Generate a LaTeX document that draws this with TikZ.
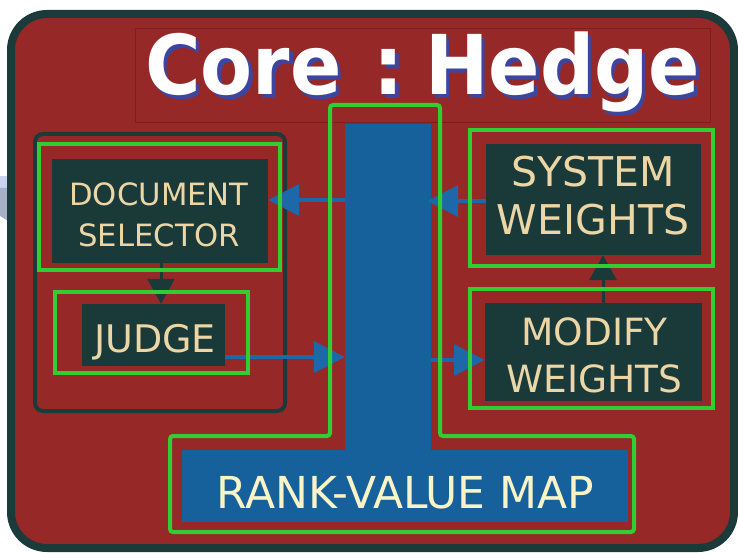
\documentclass[tikz,border=0pt]{standalone}
\usepackage{fontspec}
\setmainfont{DejaVu Sans}
\usetikzlibrary{arrows.meta}

\definecolor{rimdark}{RGB}{27,58,58}
\definecolor{slidered}{RGB}{150,40,40}
\definecolor{panelfill}{RGB}{26,58,58}
\definecolor{framegreen}{RGB}{50,205,50}
\definecolor{mapblue}{RGB}{22,96,156}
\definecolor{flowblue}{RGB}{28,104,168}
\definecolor{labelcream}{RGB}{236,214,165}
\definecolor{mapcream}{RGB}{248,244,200}
\definecolor{titleshade}{RGB}{60,70,160}
\definecolor{hazeblue}{RGB}{200,212,240}
\definecolor{hazegrey}{RGB}{168,176,200}

\tikzset{
  panel/.style={fill=panelfill, draw=none, inner sep=0pt},
  greenframe/.style={draw=framegreen, line width=4pt},
  lbl/.style={text=labelcream, align=center, inner sep=0pt},
  bluearrow/.style={draw=flowblue, line width=4pt, -{Triangle[length=31pt,width=31pt]}},
  darkarrow/.style={draw=panelfill, line width=3pt, -{Triangle[length=25pt,width=27pt]}},
  bluefill/.style={fill=mapblue, draw=none, inner sep=0pt},
  titletext/.style={anchor=base west, inner sep=0pt, font=\bfseries\fontsize{75}{80}\selectfont, xscale=1.01, yscale=1.1, transform shape},
}
% title text with its blue drop shadow set behind it
\newcommand{\shadowedtitle}[1]{%
  \makebox[0pt][l]{\hspace{3.5pt}\raisebox{-3.5pt}{\color{titleshade}#1}}#1}

\begin{document}
\begin{tikzpicture}[x=1pt,y=-1pt]
\useasboundingbox (0,0) rectangle (738,553);

% faint shape peeking out on the left
\fill[hazeblue] (0,176) rectangle (8,188);
\fill[hazegrey] (0,188) -- (8,188) -- (8,221) -- (0,216) -- cycle;

% slide background
\draw[draw=rimdark, fill=slidered, line width=8pt, rounded corners=36pt] (11,14) rectangle (734,548);

% title area
\draw[draw=black!60!slidered, line width=0.6pt, opacity=0.3] (135,28) rectangle (710,122);
\node[titletext, text=white] (title) at (145,95) {\shadowedtitle{Core\hspace{32pt}:\hspace{21pt}Hedge}};

% group around selector and judge
\draw[draw=rimdark, line width=4pt, rounded corners=8pt] (35,134) rectangle (285,411);

% dark panels
\node[panel, minimum width=216pt, minimum height=104pt] (docbox) at (160,211) {};
\node[panel, minimum width=143pt, minimum height=62pt] (judgebox) at (153.5,335) {};
\node[panel, minimum width=215pt, minimum height=111pt] (sysbox) at (593.5,199.5) {};
\node[panel, minimum width=217pt, minimum height=98pt] (modbox) at (593.5,352) {};

% labels
\node[lbl, font=\fontsize{30.7}{41}\selectfont] (doclbl) at (159,215) {DOCUMENT\\SELECTOR};
\node[lbl, anchor=base, font=\fontsize{38}{40}\selectfont] (judgelbl) at (155,352) {JUDGE};
\node[lbl, font=\fontsize{41}{48}\selectfont] (syslbl) at (593,195.5) {SYSTEM\\WEIGHTS};
\node[lbl, font=\fontsize{37.5}{47}\selectfont] (modlbl) at (594.5,355) {MODIFY\\WEIGHTS};

% rank-value map: column and base bar
\node[bluefill, minimum width=86pt, minimum height=326pt] (column) at (388,287) {};
\node[bluefill, minimum width=446pt, minimum height=72pt] (rankbar) at (405,486) {};
\node[anchor=base, inner sep=0pt, text=mapcream, font=\fontsize{44}{48}\selectfont] (ranklbl) at (405.5,508) {RANK-VALUE MAP};

% connectors
\coordinate (dsIn) at ([yshift=11pt]docbox.east);
\draw[bluearrow] (column.west |- dsIn) -- (dsIn);
\coordinate (swOut) at ([yshift=-1.5pt]sysbox.west);
\draw[bluearrow, shorten >=-4pt] (swOut) -- (column.east |- swOut);
\coordinate (jgOut) at ([yshift=-22pt]judgebox.east);
\draw[bluearrow] (jgOut) -- (column.west |- jgOut);
\coordinate (mwIn) at ([yshift=-8pt]modbox.west);
\draw[bluearrow] (column.east |- mwIn) -- (mwIn);
\coordinate (mwOut) at ([xshift=9.5pt]modbox.north);
\draw[darkarrow] (mwOut) -- (sysbox.south -| mwOut);
\coordinate (dsOut) at ([xshift=1pt]docbox.south);
\draw[darkarrow] (dsOut) -- (judgebox.north -| dsOut);

% green outlines
\draw[greenframe] (39,144) rectangle (280,270);
\draw[greenframe] (55,292) rectangle (248,373);
\draw[greenframe] (470,130) rectangle (713,266);
\draw[greenframe] (470,289) rectangle (713,408);
\draw[greenframe, rounded corners=3pt] (330,105) -- (440,105) -- (440,436) -- (634,436) -- (634,532) -- (170,532) -- (170,436) -- (330,436) -- cycle;
\end{tikzpicture}
\end{document}
